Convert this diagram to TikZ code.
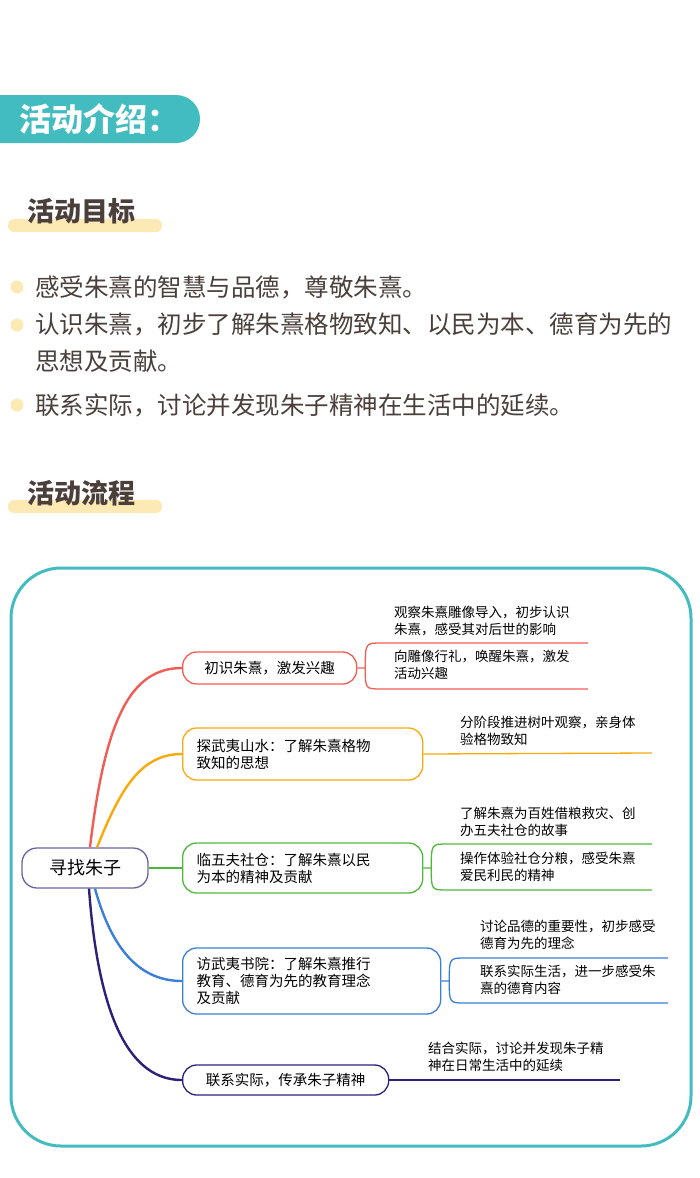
\documentclass[tikz,border=0pt]{standalone}
\usepackage{fontspec}
\setmainfont{Noto Sans CJK SC}
\usetikzlibrary{positioning}
\definecolor{teal}{HTML}{43BCC0}
\definecolor{bar}{HTML}{FDE9B4}
\definecolor{brownt}{HTML}{4A3F3A}
\definecolor{cred}{HTML}{F25C54}
\definecolor{corange}{HTML}{F9A90B}
\definecolor{cgreen}{HTML}{4DB83A}
\definecolor{cblue}{HTML}{3B7FD6}
\definecolor{cnavy}{HTML}{2E1F78}
\tikzset{
  title/.style={font=\fontsize{27}{27}\selectfont\bfseries, text=brownt, anchor=west, inner sep=0pt},
  goal/.style={font=\fontsize{24.5}{37}\selectfont, text=brownt, anchor=west, inner sep=0pt, align=left},
  dot/.style={circle, fill=bar, minimum size=13pt, inner sep=0pt},
  branch/.style={rectangle, rounded corners=14pt, draw, line width=1.3pt, font=\fontsize{14.5}{17}\selectfont, align=left, inner xsep=14pt, anchor=west},
  leaf/.style={font=\fontsize{13.5}{16.5}\selectfont, align=left, anchor=north west, inner sep=0pt},
  link/.style={line width=2.4pt}
}
\begin{document}
\begin{tikzpicture}[x=1pt,y=-1pt]
\useasboundingbox (0,0) rectangle (700,1178);
% header
\fill[teal] (0,95) -- (176,95) arc[start angle=-90,end angle=90,radius=24] -- (0,143) -- cycle;
\node[anchor=west, text=white, font=\fontsize{32}{32}\selectfont\bfseries] (intro) at (16,119) {活动介绍：};
% goals
\fill[bar, rounded corners=6pt] (8,219) rectangle (162,232);
\node[title] (goals) at (27,211) {活动目标};
\node[dot] (d1) at (17,287) {};
\node[dot] (d2) at (17,325) {};
\node[dot] (d3) at (17,405) {};
\node[goal] (g1) at (35,287) {感受朱熹的智慧与品德，尊敬朱熹。};
\node[goal] (g2) at (35,343) {认识朱熹，初步了解朱熹格物致知、以民为本、德育为先的\\思想及贡献。};
\node[goal] (g3) at (35,405) {联系实际，讨论并发现朱子精神在生活中的延续。};
% flow
\fill[bar, rounded corners=6pt] (8,500) rectangle (162,513);
\node[title] (flow) at (27,493) {活动流程};
\draw[teal, line width=3pt, rounded corners=50pt] (11,568) rectangle (691,1146);
% mind map
\node[rectangle, rounded corners=15pt, draw=cnavy!70, line width=1.3pt, minimum width=126pt, minimum height=40pt, font=\fontsize{18}{18}\selectfont] (root) at (85,868) {寻找朱子};
\node[branch, draw=cred, minimum height=32pt, minimum width=174pt] (b1) at (182,668) {初识朱熹，激发兴趣};
\node[branch, draw=corange, minimum height=52pt, text width=212pt] (b2) at (182,754) {探武夷山水：了解朱熹格物\\致知的思想};
\node[branch, draw=cgreen, minimum height=50pt, text width=212pt] (b3) at (182,868) {临五夫社仓：了解朱熹以民\\为本的精神及贡献};
\node[branch, draw=cblue, minimum height=66pt, text width=230pt] (b4) at (182,981) {访武夷书院：了解朱熹推行\\教育、德育为先的教育理念\\及贡献};
\node[branch, draw=cnavy, minimum height=30pt, minimum width=206pt] (b5) at (182,1080) {联系实际，传承朱子精神};
\draw[link, cred] (root.north) ++(5,0) coordinate (r1) .. controls (105,720) and (130,668) .. (b1.west);
\draw[link, corange] (root.north) ++(12,0) coordinate (r2) .. controls (120,790) and (140,754) .. (b2.west);
\draw[link, cgreen] (root.east) -- (b3.west);
\draw[link, cblue] (root.south) ++(10,0) coordinate (r4) .. controls (112,950) and (140,981) .. (b4.west);
\draw[link, cnavy] (root.south) ++(4,0) coordinate (r5) .. controls (100,1040) and (140,1080) .. (b5.west);
% leaves 1
\coordinate (l1a) at (588,643); \coordinate (l1b) at (588,689);
\draw[cred, line width=1.3pt] (b1.east) -- ++(8,0) .. controls ++(0,-25) .. ++(16,-25) -- (l1a);
\draw[cred, line width=1.3pt] (b1.east) ++(8,0) .. controls ++(0,21) .. ++(16,21) -- (l1b);
\node[leaf] (t1a) at (394,606) {观察朱熹雕像导入，初步认识\\朱熹，感受其对后世的影响};
\node[leaf] (t1b) at (394,650) {向雕像行礼，唤醒朱熹，激发\\活动兴趣};
% leaves 2
\coordinate (l2) at (652,753);
\draw[corange, line width=1.3pt] (b2.east) -- (l2);
\node[leaf] (t2) at (460,716) {分阶段推进树叶观察，亲身体\\验格物致知};
% leaves 3
\coordinate (l3a) at (652,844); \coordinate (l3b) at (652,890);
\draw[cgreen, line width=1.3pt] (b3.east) -- ++(8,0) .. controls ++(0,-24) .. ++(16,-24) -- (l3a);
\draw[cgreen, line width=1.3pt] (b3.east) ++(8,0) .. controls ++(0,22) .. ++(16,22) -- (l3b);
\node[leaf] (t3a) at (460,807) {了解朱熹为百姓借粮救灾、创\\办五夫社仓的故事};
\node[leaf] (t3b) at (460,852) {操作体验社仓分粮，感受朱熹\\爱民利民的精神};
% leaves 4
\coordinate (l4a) at (668,958); \coordinate (l4b) at (668,1003);
\draw[cblue, line width=1.3pt] (b4.east) -- ++(8,0) .. controls ++(0,-23) .. ++(16,-23) -- (l4a);
\draw[cblue, line width=1.3pt] (b4.east) ++(8,0) .. controls ++(0,22) .. ++(16,22) -- (l4b);
\node[leaf] (t4a) at (480,920) {讨论品德的重要性，初步感受\\德育为先的理念};
\node[leaf] (t4b) at (480,965) {联系实际生活，进一步感受朱\\熹的德育内容};
% leaves 5
\coordinate (l5) at (620,1080);
\draw[cnavy, line width=1.3pt] (b5.east) -- (l5);
\node[leaf] (t5) at (428,1042) {结合实际，讨论并发现朱子精\\神在日常生活中的延续};
\end{tikzpicture}
\end{document}
